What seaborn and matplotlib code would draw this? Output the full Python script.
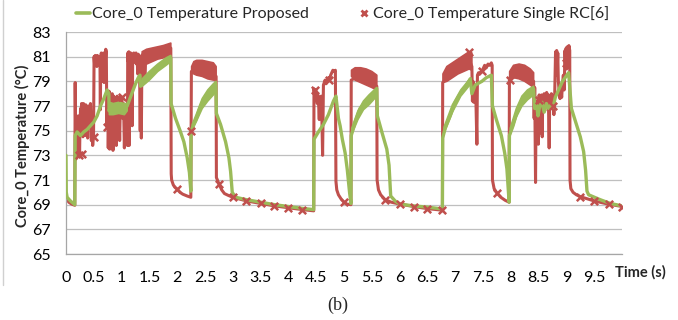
import numpy as np
import seaborn as sns
import matplotlib.pyplot as plt
from matplotlib.lines import Line2D

nan = np.nan

RED = "#C0504D"
GREEN = "#9BBB59"

# Core_0 temperature, single RC model [6] (red line)
rc_time = [
    0.000, 0.050, 0.100, 0.158, 0.165, 0.172, 0.178, 0.185, 0.192, 0.200,
    0.210, 0.220, 0.228, 0.236, 0.244, 0.252, 0.262, 0.270, 0.280, 0.288,
    0.296, 0.305, 0.315, 0.325, 0.335, 0.345, 0.355, 0.365, 0.375, 0.390,
    0.400, 0.420, 0.440, 0.455, 0.470, 0.480, 0.495, 0.505, 0.515, 0.525,
    0.535, 0.545, 0.555, 0.565, 0.575, 0.585, 0.600, 0.610, 0.618, 0.625,
    0.635, 0.645, 0.655, 0.665, 0.675, 0.685, 0.695, 0.705, 0.715, 0.725,
    0.735, 0.750, 0.760, 0.775, 0.785, 0.800, 0.815, 0.830, 0.845, 0.860,
    0.875, 0.890, 0.905, 0.920, 0.935, 0.950, 0.965, 0.980, 0.995, 1.005,
    1.020, 1.035, 1.050, 1.065, 1.080, 1.095, 1.105, 1.110, 1.120, 1.130,
    1.135, 1.145, 1.155, 1.165, 1.175, 1.190, 1.200, 1.210, 1.220, 1.230,
    1.240, 1.250, 1.260, 1.270, 1.280, 1.290, 1.300, 1.310, 1.320, 1.335,
    1.345, 1.355, 1.365, 1.380, 1.400, 1.420, 1.435, 1.500, 1.600, 1.700,
    1.800, 1.885, 1.892, 1.900, 1.930, 1.960, 2.000, 2.050, 2.100, 2.180,
    2.245, 2.255, 2.400, 2.550, 2.700, 2.705, 2.750, 2.800, 2.850, 2.920,
    3.000, 3.250, 3.500, 3.750, 4.000, 4.250, 4.455, 4.460, 4.475, 4.490,
    4.500, 4.510, 4.520, 4.530, 4.545, 4.555, 4.565, 4.575, 4.590, 4.600,
    4.615, 4.630, 4.645, 4.660, 4.675, 4.690, 4.710, 4.725, 4.740, 4.760,
    4.780, 4.800, 4.820, 4.845, 4.855, 4.870, 4.900, 4.950, 5.000, 5.050,
    5.125, 5.130, 5.300, 5.590, 5.595, 5.620, 5.660, 5.740, 5.850, 6.000,
    6.250, 6.500, 6.770, 6.775, 7.000, 7.250, 7.300, 7.310, 7.320, 7.335,
    7.350, 7.370, 7.390, 7.400, 7.420, 7.440, 7.470, 7.500, 7.530, 7.560,
    7.590, 7.620, 7.650, 7.665, 7.670, 7.700, 7.750, 7.820, 7.900, 7.970,
    7.975, 8.200, 8.410, 8.420, 8.430, 8.445, 8.455, 8.465, 8.475, 8.485,
    8.495, 8.510, 8.520, 8.530, 8.545, 8.555, 8.565, 8.575, 8.590, 8.600,
    8.610, 8.620, 8.635, 8.645, 8.660, 8.675, 8.690, 8.700, 8.715, 8.730,
    8.745, 8.760, 8.775, 8.790, 8.805, 8.815, 8.825, 8.835, 8.845, 8.855,
    8.870, 8.885, 8.900, 8.915, 8.930, 8.945, 8.960, 8.975, 8.985, 8.995,
    9.005, 9.015, 9.030, 9.045, 9.060, 9.065, 9.080, 9.120, 9.180, 9.250,
    9.500, 9.750, 10.00,
]
rc_temp = [
    69.6, 69.2, 69.05, 68.95, 78.9, 75.0, 72.7, 75.5, 72.8, 74.6,
    73.0, 76.2, 74.8, 76.0, 73.0, 75.5, 76.8, 74.8, 77.2, 75.0,
    77.0, 74.5, 77.2, 75.5, 77.0, 74.6, 77.1, 75.8, 76.8, 74.4,
    77.0, 75.6, 77.2, 74.2, 74.6, 73.8, 74.5, 81.0, 80.3, 81.1,
    80.4, 81.0, 80.2, 81.1, 80.5, 81.0, 80.3, 81.0, 76.7, 80.8,
    81.3, 79.0, 81.2, 80.0, 81.3, 78.9, 81.2, 80.2, 81.6, 81.4,
    75.3, 78.0, 73.6, 78.2, 73.5, 77.5, 74.0, 78.0, 73.4, 77.8,
    75.5, 77.6, 73.8, 77.8, 76.0, 77.4, 74.2, 77.8, 77.4, 77.7,
    76.0, 77.2, 73.6, 77.0, 74.0, 76.6, 73.8, 81.3, 80.6, 81.4,
    73.8, 81.2, 80.5, 81.3, 80.6, 75.4, 81.2, 80.6, 81.3, 80.7,
    81.2, 80.5, 81.3, 80.4, 81.0, 79.6, 81.2, 80.5, 81.1, 75.0,
    81.0, 74.4, 80.8, 81.2, 80.6, 78.9, 81.4, 81.2, 81.3, 81.4,
    81.5, 81.7, 71.5, 71.0, 70.6, 70.4, 70.25, 70.0, 69.85, 69.7,
    69.6, 79.8, 80.0, 79.8, 79.4, 71.2, 70.7, 70.2, 69.9, 69.75,
    69.6, 69.3, 69.1, 68.9, 68.75, 68.6, 68.5, 78.4, 77.8, 78.3,
    77.5, 78.0, 77.2, 77.9, 77.0, 75.9, 77.6, 77.2, 77.8, 76.5,
    73.0, 78.7, 78.9, 79.1, 78.8, 79.1, 79.0, 79.3, 79.2, 79.5,
    79.7, 79.9, 79.8, 79.9, 70.9, 70.2, 69.8, 69.45, 69.2, 69.05,
    69.0, 79.1, 79.5, 78.6, 71.0, 70.2, 69.8, 69.4, 69.2, 69.05,
    68.85, 68.68, 68.55, 78.9, 79.9, 80.8, 80.2, 77.4, 79.0, 77.3,
    78.6, 78.0, 73.9, 79.5, 79.7, 79.6, 79.8, 80.0, 80.3, 80.1,
    80.4, 80.3, 80.5, 80.3, 71.0, 70.3, 69.95, 69.6, 69.35, 69.2,
    79.1, 79.8, 79.0, 76.0, 78.5, 70.8, 77.4, 76.8, 74.1, 77.3,
    73.9, 77.9, 74.8, 77.8, 77.1, 77.9, 74.5, 77.8, 77.0, 78.0,
    76.6, 77.9, 77.3, 78.1, 77.2, 77.9, 73.6, 77.6, 77.0, 78.0,
    76.8, 77.8, 76.3, 78.0, 81.4, 79.5, 81.5, 80.0, 81.3, 79.0,
    78.2, 77.6, 78.5, 77.7, 78.8, 79.5, 78.3, 81.5, 80.2, 81.7,
    80.0, 81.8, 80.5, 81.9, 81.5, 71.0, 70.3, 70.0, 69.8, 69.65,
    69.3, 69.05, 68.85,
]

# dense oscillation blocks of the red series (low / high envelope)
rc_band_time = [1.37, 1.45, 1.55, 1.65, 1.75, 1.885, nan,
                2.26, 2.30, 2.35, 2.45, 2.55, 2.65, 2.70, nan,
                5.135, 5.20, 5.30, 5.40, 5.50, 5.59, nan,
                6.78, 6.85, 6.95, 7.05, 7.15, 7.25, 7.30, nan,
                7.98, 8.05, 8.15, 8.25, 8.35, 8.41]
rc_band_lo = [80.4, 80.4, 80.6, 80.8, 80.9, 81.0, nan,
              79.7, 79.6, 79.5, 79.4, 79.2, 79.1, 79.1, nan,
              79.4, 79.1, 78.9, 78.7, 78.5, 78.3, nan,
              78.9, 79.0, 79.3, 79.6, 79.8, 80.0, 79.9, nan,
              79.2, 79.3, 79.2, 79.0, 78.7, 78.5]
rc_band_hi = [81.4, 81.6, 81.7, 81.8, 81.9, 82.1, nan,
              80.2, 80.6, 80.7, 80.7, 80.6, 80.5, 80.2, nan,
              79.9, 80.1, 80.1, 80.0, 79.8, 79.5, nan,
              79.6, 80.2, 80.5, 80.8, 81.1, 81.4, 81.3, nan,
              79.8, 80.3, 80.4, 80.3, 80.0, 79.7]

# red "x" markers
mark_time = [0.23, 0.29, 0.50, 0.735, 1.00, 1.25, 1.50, 1.75, 2.00, 2.25,
             2.50, 2.75, 3.00, 3.24, 3.50, 3.74, 4.00, 4.25, 4.48, 4.73,
             5.00, 5.25, 5.50, 5.74, 6.00, 6.25, 6.50, 6.76, 7.00, 7.24,
             7.48, 7.75, 7.98, 8.25, 8.50, 8.75, 9.00, 9.25, 9.50, 9.76,
             10.0]
mark_temp = [73.0, 73.1, 74.5, 75.3, 77.7, 80.8, 81.2, 81.5, 70.3, 75.0,
             80.2, 70.7, 69.6, 69.3, 69.1, 68.9, 68.75, 68.6, 78.3, 79.1,
             69.2, 79.6, 79.2, 69.4, 69.05, 68.85, 68.68, 68.55, 80.0, 81.4,
             79.8, 69.95, 79.1, 79.8, 77.5, 77.0, 80.5, 69.65, 69.3, 69.05,
             68.85]

# Core_0 temperature, proposed model (green line)
prop_time = [
    0.000, 0.005, 0.020, 0.080, 0.158, 0.165, 0.200, 0.260, 0.320, 0.380,
    0.440, 0.500, 0.560, 0.620, 0.680, 0.740, 0.770, 0.775, 0.800, 0.850,
    0.900, 0.950, 1.000, 1.050, 1.100, 1.150, 1.200, 1.250, 1.300, 1.330,
    1.340, 1.370, 1.460, 1.580, 1.700, 1.820, 1.885, 1.890, 1.970, 2.060,
    2.120, 2.180, 2.220, 2.245, 2.250, 2.330, 2.420, 2.510, 2.630, 2.695,
    2.705, 2.780, 2.870, 2.930, 2.960, 2.990, 3.050, 3.250, 3.500, 3.750,
    4.000, 4.250, 4.455, 4.460, 4.540, 4.630, 4.720, 4.810, 4.855, 4.900,
    4.930, 4.970, 5.020, 5.060, 5.100, 5.125, 5.130, 5.200, 5.290, 5.410,
    5.530, 5.590, 5.600, 5.680, 5.770, 5.810, 5.840, 5.920, 6.000, 6.250,
    6.500, 6.770, 6.775, 6.820, 6.910, 7.000, 7.090, 7.180, 7.270, 7.300,
    7.360, 7.480, 7.560, 7.650, 7.670, 7.740, 7.830, 7.890, 7.930, 7.970,
    7.975, 8.040, 8.130, 8.220, 8.340, 8.410, 8.430, 8.460, 8.490, 8.520,
    8.560, 8.600, 8.640, 8.680, 8.720, 8.760, 8.800, 8.840, 8.930, 9.040,
    9.090, 9.180, 9.250, 9.310, 9.345, 9.370, 9.400, 9.610, 9.790, 10.00,
]
prop_temp = [
    73.0, 70.0, 69.6, 69.3, 69.0, 74.6, 74.9, 74.6, 74.9, 75.1,
    75.4, 75.7, 76.2, 77.0, 77.6, 78.3, 78.0, 76.6, 77.0, 76.7,
    76.9, 76.8, 77.0, 76.7, 77.0, 77.6, 78.2, 78.8, 79.3, 79.5,
    78.6, 78.9, 79.3, 79.9, 80.3, 80.7, 80.9, 77.2, 76.0, 74.9,
    74.1, 72.8, 71.6, 70.1, 75.0, 75.8, 77.0, 77.8, 78.4, 78.8,
    76.4, 75.5, 74.1, 72.8, 71.7, 70.0, 69.6, 69.4, 69.2, 69.0,
    68.85, 68.7, 68.6, 74.3, 74.9, 75.5, 76.3, 77.4, 77.8, 76.0,
    75.4, 74.3, 73.2, 71.8, 70.0, 69.1, 74.6, 75.7, 76.8, 77.4,
    78.0, 78.4, 76.2, 74.9, 73.5, 72.2, 69.7, 69.3, 69.05, 68.9,
    68.8, 68.65, 74.4, 75.2, 76.2, 77.3, 78.0, 78.5, 79.2, 78.0,
    78.7, 79.0, 79.3, 79.5, 77.0, 75.9, 74.6, 73.2, 71.9, 69.2,
    74.6, 75.4, 76.8, 77.6, 78.1, 78.4, 76.8, 77.2, 76.2, 77.0,
    77.3, 76.5, 77.2, 76.8, 77.1, 76.9, 77.7, 78.1, 79.0, 79.7,
    76.8, 75.5, 74.5, 73.3, 71.8, 70.1, 69.8, 69.4, 69.1, 68.9,
]

# thick (oscillating) parts of the green series
prop_band_time = [0.78, 0.85, 0.95, 1.05, 1.10, nan,
                  1.37, 1.50, 1.65, 1.80, 1.885, nan,
                  2.27, 2.35, 2.45, 2.55, 2.65, 2.70, nan,
                  5.14, 5.25, 5.35, 5.45, 5.59, nan,
                  6.80, 6.95, 7.10, 7.28, nan,
                  7.99, 8.10, 8.20, 8.30, 8.41]
prop_band_lo = [76.3, 76.3, 76.4, 76.3, 76.6, nan,
                78.6, 79.1, 79.8, 80.3, 80.6, nan,
                75.1, 75.8, 76.8, 77.4, 77.9, 78.2, nan,
                74.7, 75.9, 76.7, 77.1, 77.8, nan,
                74.8, 76.5, 77.8, 78.8, nan,
                74.7, 76.1, 77.0, 77.5, 77.9]
prop_band_hi = [77.3, 77.2, 77.3, 77.2, 77.2, nan,
                79.2, 79.8, 80.4, 80.9, 81.1, nan,
                75.5, 76.4, 77.6, 78.3, 78.8, 79.0, nan,
                75.2, 76.6, 77.4, 77.9, 78.5, nan,
                75.3, 77.1, 78.3, 79.3, nan,
                75.2, 76.8, 77.8, 78.3, 78.6]

x_ticks = np.arange(0, 10.01, 0.5)
x_tick_labels = ["0", "0.5", "1", "1.5", "2", "2.5", "3", "3.5", "4", "4.5",
                 "5", "5.5", "6", "6.5", "7", "7.5", "8", "8.5", "9", "9.5", ""]
y_ticks = [65, 67, 69, 71, 73, 75, 77, 79, 81, 83]

sns.set_style("white")
plt.rcParams["font.family"] = ["Lato", "DejaVu Sans"]

fig, ax = plt.subplots(figsize=(6.78, 3.2), dpi=100)
fig.subplots_adjust(left=66 / 678, right=622 / 678, bottom=1 - 254 / 320, top=1 - 32 / 320)

# red series first, green drawn over it
sns.lineplot(x=rc_time, y=rc_temp, ax=ax, color=RED, lw=2.2,
             estimator=None, sort=False, zorder=2)
ax.fill_between(rc_band_time, rc_band_lo, rc_band_hi, color=RED, lw=1.2, zorder=2)
ax.fill_between(prop_band_time, prop_band_lo, prop_band_hi, color=GREEN, lw=1.2, zorder=3)
sns.lineplot(x=prop_time, y=prop_temp, ax=ax, color=GREEN, lw=2.4,
             estimator=None, sort=False, zorder=3)
sns.scatterplot(x=mark_time, y=mark_temp, ax=ax, marker="x", color=RED,
                s=28, linewidth=1.8, zorder=4)

ax.set_xlim(0, 10)
ax.set_ylim(65, 83)
ax.set_xticks(x_ticks)
ax.set_xticklabels(x_tick_labels)
ax.set_yticks(y_ticks)
ax.set_xlabel("")
ax.set_ylabel("")
ax.yaxis.grid(True, color="#BFBFBF", lw=0.9)
ax.xaxis.grid(False)
ax.set_axisbelow(True)
for side in ["top", "right"]:
    ax.spines[side].set_visible(False)
for side in ["left", "bottom"]:
    ax.spines[side].set_color("#A6A6A6")
    ax.spines[side].set_linewidth(0.9)
ax.tick_params(axis="both", direction="out", length=5, width=0.9, color="#A6A6A6",
               labelsize=11.5, labelcolor="black")
ax.tick_params(axis="y", pad=6)
ax.tick_params(axis="x", pad=7)

fig.text(22 / 678, 1 - 146 / 320, "Core_0 Temperature (°C)", rotation=90,
         ha="center", va="center", fontsize=10.5, fontweight="bold")
fig.text(640 / 678, 1 - 272 / 320, "Time (s)", ha="center", va="center",
         fontsize=10.5, fontweight="bold")
fig.text(338 / 678, 1 - 305 / 320, "(b)", ha="center", va="center",
         fontsize=13, family=["Liberation Serif", "DejaVu Serif"])

handles = [Line2D([], [], color=GREEN, lw=2.6),
           Line2D([], [], color=RED, marker="x", ls="none", ms=5, mew=2)]
fig.legend(handles, ["Core_0 Temperature Proposed", "Core_0 Temperature Single RC[6]"],
           loc="center", bbox_to_anchor=(0.505, 1 - 14 / 320), ncol=2, frameon=False,
           fontsize=11.5, handlelength=0.9, handletextpad=0.1, columnspacing=3.0)

# faint chart-area border on the left
fig.add_artist(Line2D([3 / 678, 3 / 678], [1 - 285 / 320, 1], transform=fig.transFigure,
                      color="#D0D0D0", lw=1))

fig.savefig("out.png", dpi=100)
